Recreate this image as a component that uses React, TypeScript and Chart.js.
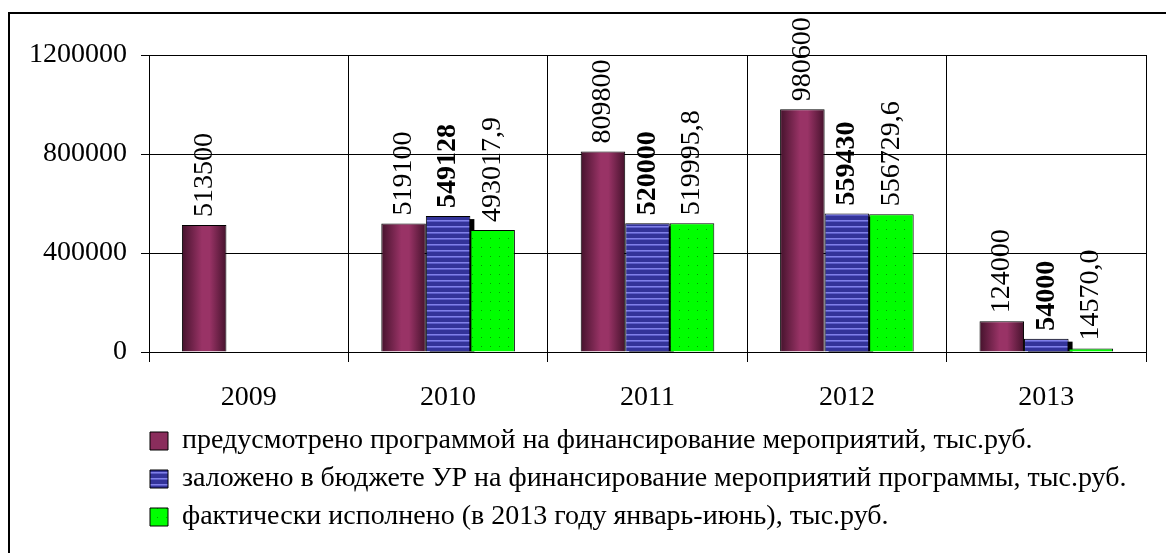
import { useEffect, useRef } from 'react';
import { Chart, registerables } from 'chart.js';

Chart.register(...registerables);

const years = ['2009', '2010', '2011', '2012', '2013'];
const planned = [513500, 519100, 809800, 980600, 124000];
const budget = [null, 549128, 520000, 559430, 54000];
const actual = [null, 493017.9, 519995.8, 556729.6, 14570.0];
const seriesNames = [
  'предусмотрено программой на финансирование мероприятий, тыс.руб.',
  'заложено в бюджете УР на финансирование мероприятий программы, тыс.руб.',
  'фактически исполнено (в 2013 году январь-июнь), тыс.руб.',
];
const yMax = 1200000;
const yStep = 400000;

const FONT = '"Liberation Serif", "Times New Roman", "DejaVu Serif", serif';
const CAT_PCT = 0.67;

function makeStripePattern(): CanvasPattern | string {
  const c = document.createElement('canvas');
  c.width = 8;
  c.height = 6;
  const x = c.getContext('2d');
  if (!x) return '#333399';
  x.fillStyle = '#333399';
  x.fillRect(0, 0, 8, 6);
  x.fillStyle = '#8080e8';
  x.fillRect(0, 4, 8, 1);
  x.fillStyle = '#5c5cc8';
  x.fillRect(0, 5, 8, 1);
  return x.createPattern(c, 'repeat') || '#333399';
}

function makeDotPattern(): CanvasPattern | string {
  const c = document.createElement('canvas');
  c.width = 9;
  c.height = 9;
  const x = c.getContext('2d');
  if (!x) return '#00ff00';
  x.fillStyle = '#00ff00';
  x.fillRect(0, 0, 9, 9);
  x.fillStyle = '#00a000';
  x.fillRect(4, 4, 1, 1);
  return x.createPattern(c, 'repeat') || '#00ff00';
}

export default function App() {
  const ref = useRef<HTMLCanvasElement | null>(null);

  useEffect(() => {
    document.body.style.margin = '0';
    const canvas = ref.current;
    if (!canvas) return;
    const stripes = makeStripePattern();
    const dots = makeDotPattern();

    const maroonFill = (ctx: any) => {
      const chart = ctx.chart;
      const xs = chart.scales && chart.scales.x;
      if (ctx.type !== 'data' || !xs || !chart.chartArea) return '#993366';
      const center = xs.getPixelForValue(ctx.dataIndex);
      const cat = xs.width / years.length;
      const bw = (cat * CAT_PCT) / 3;
      const left = center - 1.5 * bw;
      const g = chart.ctx.createLinearGradient(left, 0, left + bw, 0);
      g.addColorStop(0, '#45122c');
      g.addColorStop(0.45, '#993366');
      g.addColorStop(0.62, '#993366');
      g.addColorStop(1, '#45122c');
      return g;
    };

    const framePlugin = {
      id: 'frame',
      beforeDraw(chart: any) {
        const c = chart.ctx;
        c.save();
        c.fillStyle = '#fff';
        c.fillRect(0, 0, chart.width, chart.height);
        c.strokeStyle = '#000';
        c.lineWidth = 2;
        c.beginPath();
        c.moveTo(9, chart.height + 2);
        c.lineTo(9, 13);
        c.lineTo(chart.width + 2, 13);
        c.stroke();
        c.restore();
        if (chart.legend) chart.legend.left = 140;
      },
    };

    const shadowPlugin = {
      id: 'shadow',
      beforeDatasetsDraw(chart: any) {
        const c = chart.ctx;
        const a = chart.chartArea;
        const meta = chart.getDatasetMeta(1);
        c.save();
        c.beginPath();
        c.rect(a.left, a.top, a.right - a.left, a.bottom - a.top);
        c.clip();
        c.fillStyle = '#000';
        meta.data.forEach((el: any, i: number) => {
          if (budget[i] == null) return;
          const p = el.getProps(['x', 'y', 'base', 'width'], true);
          c.fillRect(p.x - p.width / 2 + 4, p.y + 3, p.width, p.base - p.y - 3);
        });
        c.restore();
      },
    };

    const labelPlugin = {
      id: 'valueLabels',
      afterDatasetsDraw(chart: any) {
        const c = chart.ctx;
        chart.data.datasets.forEach((ds: any, di: number) => {
          const meta = chart.getDatasetMeta(di);
          meta.data.forEach((el: any, i: number) => {
            const v = ds.data[i];
            if (v == null) return;
            const text = di === 2 ? Number(v).toFixed(1).replace('.', ',') : String(v);
            const p = el.getProps(['x', 'y'], true);
            c.save();
            c.translate(p.x, p.y - 8);
            c.rotate(-Math.PI / 2);
            c.font = `${di === 1 ? 'bold ' : ''}28px ${FONT}`;
            c.textAlign = 'left';
            c.textBaseline = 'middle';
            c.fillStyle = '#000';
            c.fillText(text, 0, 0);
            c.restore();
          });
        });
      },
    };

    const chart = new Chart(canvas, {
      type: 'bar',
      data: {
        labels: years,
        datasets: [
          {
            label: seriesNames[0],
            data: planned,
            backgroundColor: maroonFill,
            borderColor: '#000',
            borderWidth: 1,
          },
          {
            label: seriesNames[1],
            data: budget,
            backgroundColor: stripes,
            borderColor: '#000',
            borderWidth: 1,
          },
          {
            label: seriesNames[2],
            data: actual,
            backgroundColor: dots,
            borderColor: '#000',
            borderWidth: 1,
          },
        ],
      },
      options: {
        responsive: false,
        animation: false,
        layout: { padding: { top: 55, right: 20, left: 0, bottom: 12 } },
        datasets: {
          bar: { categoryPercentage: CAT_PCT, barPercentage: 1 },
        },
        scales: {
          x: {
            grid: { color: '#000', lineWidth: 1, tickLength: 10, offset: true },
            border: { color: '#000', width: 1 },
            ticks: { color: '#000', font: { family: FONT, size: 28 }, padding: 19 },
            afterFit(scale: any) {
              scale.height = 65;
            },
          },
          y: {
            min: 0,
            max: yMax,
            grid: { color: '#000', lineWidth: 1, tickLength: 8 },
            border: { color: '#000', width: 1 },
            ticks: {
              stepSize: yStep,
              color: '#000',
              font: { family: FONT, size: 28 },
              padding: 14,
              callback: (v: any) => String(v),
            },
            afterFit(scale: any) {
              scale.width = 149;
            },
          },
        },
        plugins: {
          title: { display: false },
          tooltip: { enabled: false },
          legend: {
            position: 'bottom',
            align: 'start',
            labels: {
              color: '#000',
              font: { family: FONT, size: 28 },
              boxWidth: 18,
              boxHeight: 18,
              padding: 10,
              generateLabels: (ch: any) => {
                const items = Chart.defaults.plugins.legend.labels.generateLabels(ch);
                const fills = ['#8a2d5c', stripes, dots];
                return items.map((it: any, i: number) => ({
                  ...it,
                  fillStyle: fills[i],
                  strokeStyle: '#000',
                  lineWidth: 1,
                }));
              },
            },
          },
        },
      } as any,
      plugins: [framePlugin, shadowPlugin, labelPlugin],
    });

    return () => chart.destroy();
  }, []);

  return (
    <div style={{ width: 1166, height: 553 }}>
      <canvas ref={ref} width={1166} height={553} style={{ display: 'block' }} />
    </div>
  );
}
